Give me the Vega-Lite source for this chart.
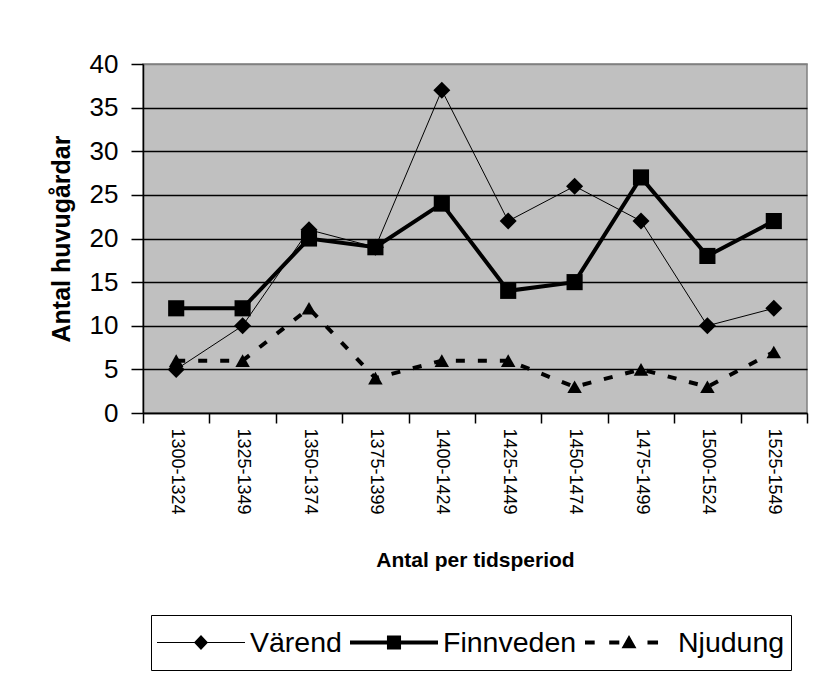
{
  "$schema": "https://vega.github.io/schema/vega-lite/v6.json",
  "width": 664,
  "height": 349,
  "autosize": {"type": "none"},
  "padding": {"left": 143, "top": 64, "right": 10, "bottom": 260},
  "background": "white",
  "config": {
    "font": "Liberation Sans",
    "view": {"fill": "#C0C0C0", "stroke": "#808080", "strokeWidth": 1.5},
    "axis": {"domainColor": "black", "tickColor": "black", "labelColor": "black", "titleColor": "black", "domainWidth": 1.5, "tickWidth": 1.5, "labelFont": "Liberation Sans", "titleFont": "Liberation Sans"},
    "legend": {"labelFont": "Liberation Sans"}
  },
  "data": {
    "values": [
      {"series": "Värend", "period": "1300-1324", "count": 5},
      {"series": "Värend", "period": "1325-1349", "count": 10},
      {"series": "Värend", "period": "1350-1374", "count": 21},
      {"series": "Värend", "period": "1375-1399", "count": 19},
      {"series": "Värend", "period": "1400-1424", "count": 37},
      {"series": "Värend", "period": "1425-1449", "count": 22},
      {"series": "Värend", "period": "1450-1474", "count": 26},
      {"series": "Värend", "period": "1475-1499", "count": 22},
      {"series": "Värend", "period": "1500-1524", "count": 10},
      {"series": "Värend", "period": "1525-1549", "count": 12},
      {"series": "Finnveden", "period": "1300-1324", "count": 12},
      {"series": "Finnveden", "period": "1325-1349", "count": 12},
      {"series": "Finnveden", "period": "1350-1374", "count": 20},
      {"series": "Finnveden", "period": "1375-1399", "count": 19},
      {"series": "Finnveden", "period": "1400-1424", "count": 24},
      {"series": "Finnveden", "period": "1425-1449", "count": 14},
      {"series": "Finnveden", "period": "1450-1474", "count": 15},
      {"series": "Finnveden", "period": "1475-1499", "count": 27},
      {"series": "Finnveden", "period": "1500-1524", "count": 18},
      {"series": "Finnveden", "period": "1525-1549", "count": 22},
      {"series": "Njudung", "period": "1300-1324", "count": 6},
      {"series": "Njudung", "period": "1325-1349", "count": 6},
      {"series": "Njudung", "period": "1350-1374", "count": 12},
      {"series": "Njudung", "period": "1375-1399", "count": 4},
      {"series": "Njudung", "period": "1400-1424", "count": 6},
      {"series": "Njudung", "period": "1425-1449", "count": 6},
      {"series": "Njudung", "period": "1450-1474", "count": 3},
      {"series": "Njudung", "period": "1475-1499", "count": 5},
      {"series": "Njudung", "period": "1500-1524", "count": 3},
      {"series": "Njudung", "period": "1525-1549", "count": 7}
    ]
  },
  "encoding": {
    "x": {
      "field": "period", "type": "nominal", "sort": null, "bandPosition": 0.5,
      "scale": {"type": "band", "paddingInner": 0, "paddingOuter": 0},
      "axis": {
        "title": "Antal per tidsperiod", "labelAngle": 90, "labelFontSize": 18,
        "tickSize": 10, "labelPadding": 5, "tickBand": "extent",
        "titleFontSize": 21, "titleFontWeight": "bold", "titlePadding": 35, "grid": false
      }
    },
    "y": {
      "field": "count", "type": "quantitative",
      "scale": {"domain": [0, 40], "nice": false},
      "axis": {
        "title": "Antal huvugårdar", "values": [0, 5, 10, 15, 20, 25, 30, 35, 40],
        "tickSize": 12, "labelPadding": 13, "labelFontSize": 26,
        "titleFontSize": 25, "titleFontWeight": "bold", "titlePadding": 15,
        "grid": true, "gridWidth": 1.5,
        "gridColor": {"condition": {"test": "datum.value === 40", "value": "#808080"}, "value": "black"}
      }
    }
  },
  "layer": [
    {
      "transform": [{"filter": "datum.series === 'Värend'"}],
      "mark": {"type": "line", "strokeWidth": 1},
      "encoding": {
        "color": {
          "field": "series", "type": "nominal",
          "scale": {"domain": ["Värend", "Finnveden", "Njudung"], "range": ["black", "black", "black"]},
          "legend": {
            "orient": "none", "legendX": 8, "legendY": 551, "direction": "horizontal",
            "title": null, "strokeColor": "black", "padding": 6,
            "labelFontSize": 28.5, "labelColor": "black", "symbolSize": 7744, "clipHeight": 43,
            "labelOffset": 5, "columnPadding": 8, "labelLimit": 300,
            "encode": {
              "symbols": {
                "update": {
                  "shape": {"signal": "datum.index === 0 ? 'M-1,-0.014H1V0.014H-1Z M0,-0.17L0.16,0L0,0.17L-0.16,0Z' : datum.index === 1 ? 'M-1,-0.045H1V0.045H-1Z M-0.16,-0.16H0.16V0.16H-0.16Z' : 'M-1,-0.045H-0.78V0.045H-1Z M-0.45,-0.045H-0.22V0.045H-0.45Z M0,-0.17L0.17,0.13H-0.17Z M0.42,-0.045H0.66V0.045H0.42Z'"},
                  "fill": {"value": "black"},
                  "stroke": {"value": "transparent"},
                  "strokeWidth": {"value": 0},
                  "opacity": {"value": 1}
                }
              }
            }
          }
        }
      }
    },
    {
      "transform": [{"filter": "datum.series === 'Finnveden'"}],
      "mark": {"type": "line", "color": "black", "strokeWidth": 4},
      "encoding": {}
    },
    {
      "transform": [{"filter": "datum.series === 'Njudung'"}],
      "mark": {"type": "line", "color": "black", "strokeWidth": 4, "strokeDash": [9, 13]},
      "encoding": {}
    },
    {
      "transform": [{"filter": "datum.series === 'Värend'"}],
      "mark": {"type": "point", "filled": true, "size": 290, "opacity": 1, "color": "black", "shape": "diamond"},
      "encoding": {}
    },
    {
      "transform": [{"filter": "datum.series === 'Finnveden'"}],
      "mark": {"type": "point", "filled": true, "size": 260, "opacity": 1, "color": "black", "shape": "square"},
      "encoding": {}
    },
    {
      "transform": [{"filter": "datum.series === 'Njudung'"}],
      "mark": {"type": "point", "filled": true, "size": 210, "opacity": 1, "color": "black", "shape": "triangle-up"},
      "encoding": {}
    }
  ]
}
